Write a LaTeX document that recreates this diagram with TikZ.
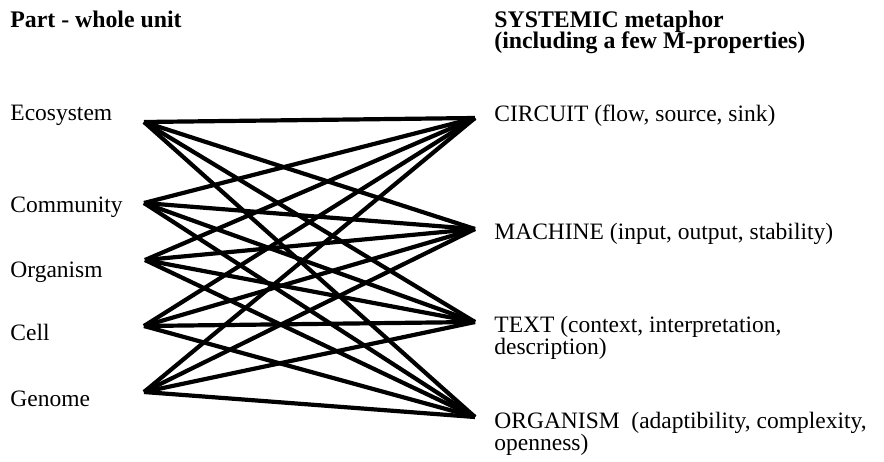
\documentclass[tikz,border=0pt]{standalone}
\usepackage{fontspec}
\setmainfont{Liberation Serif}
\begin{document}
\begin{tikzpicture}[x=0.5pt,y=-0.5pt,
  lbl/.style={anchor=base west,inner sep=0pt,font=\fontsize{11.75}{11}\selectfont},
  head/.style={lbl,font=\fontsize{11.9}{11}\selectfont\bfseries},
  link/.style={line width=2.1pt,black}]
\useasboundingbox (0,0) rectangle (884,461);

% column headings
\node[head] (lhead) at (10,27) {Part - whole unit};
\node[head] (rhead1) at (494,27) {SYSTEMIC metaphor};
\node[head] (rhead2) at (494,48) {(including a few M-properties)};

% part - whole units
\node[lbl] (tEco) at (10,120) {Ecosystem};
\node[lbl] (tCom) at (10,212) {Community};
\node[lbl] (tOrg) at (10,277) {Organism};
\node[lbl] (tCel) at (10,340) {Cell};
\node[lbl] (tGen) at (10,406) {Genome};

% systemic metaphors
\node[lbl] (tCir) at (494,121) {CIRCUIT (flow, source, sink)};
\node[lbl] (tMac) at (494,239) {MACHINE (input, output, stability)};
\node[lbl] (tTxa) at (494,332) {TEXT (context, interpretation,};
\node[lbl] (tTxb) at (494,354) {description)};
\node[lbl] (tOma) at (494,428) {ORGANISM\ \ (adaptibility, complexity,};
\node[lbl] (tOmb) at (494,450) {openness)};

% connection points
\coordinate (eco) at (144,122);
\coordinate (com) at (144,203);
\coordinate (org) at (145,260);
\coordinate (cel) at (144,326);
\coordinate (gen) at (144,392);
\coordinate (cir) at (475,118);
\coordinate (mac) at (475,229);
\coordinate (txt) at (475,322);
\coordinate (oga) at (475,417);

% every unit is linked to every metaphor
\foreach \a in {eco,com,org,cel,gen}
  \foreach \b in {cir,mac,txt,oga}
    \draw[link] (\a) -- (\b);
\end{tikzpicture}
\end{document}
